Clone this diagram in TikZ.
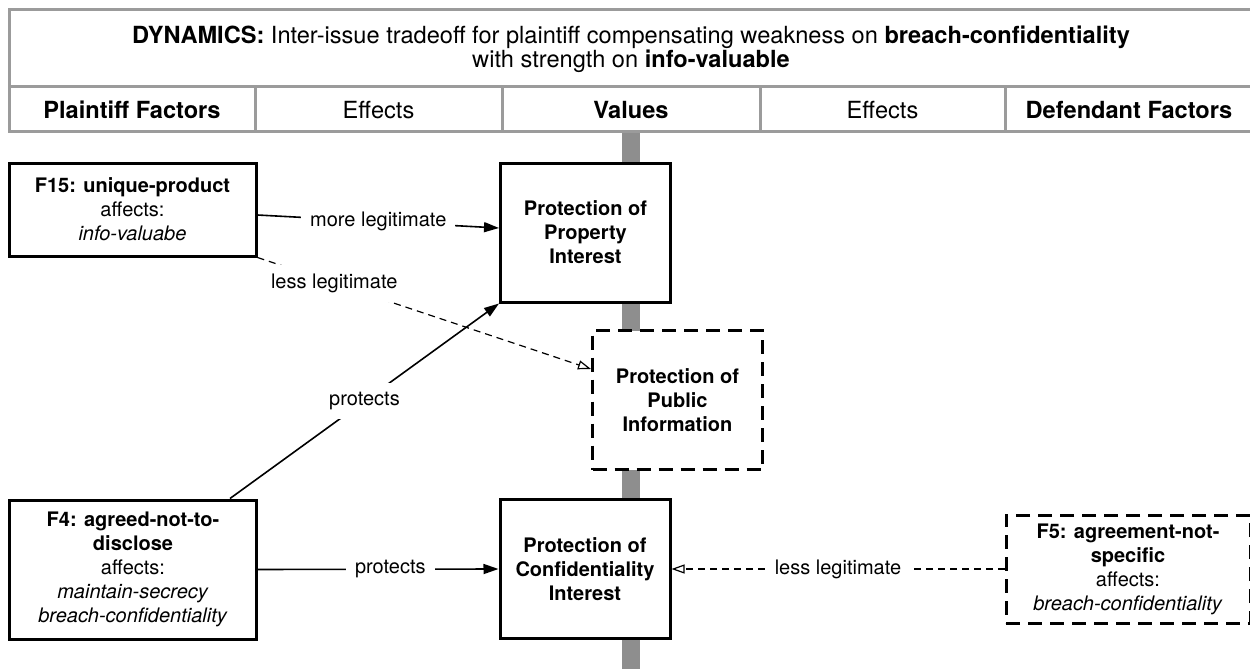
\documentclass[tikz,border=0pt]{standalone}
\usepackage{fontspec}
\setmainfont{TeX Gyre Heros}
\usetikzlibrary{arrows.meta}

\definecolor{rulegray}{RGB}{155,155,155}
\definecolor{bargray}{RGB}{142,142,142}

\begin{document}
\begin{tikzpicture}[x=0.5pt, y=-0.5pt,
    font=\fontsize{10}{12}\selectfont,
    headfont/.style={font=\fontsize{11.8}{12}\selectfont},
    factorbox/.style={draw, line width=1.5pt, fill=white, align=center, inner sep=0pt, minimum width=123.5pt},
    valuebox/.style={factorbox, font=\fontsize{10}{12}\selectfont\bfseries, minimum width=85pt, minimum height=69.5pt},
    weakbox/.style={dash pattern=on 7pt off 4pt},
    rule/.style={draw=rulegray, line width=1.5pt},
    lbl/.style={fill=white, inner sep=4.5pt},
    proarrow/.style={line width=0.8pt, -{Triangle[length=7.5pt,width=5pt]}},
    weakarrow/.style={line width=0.6pt, dash pattern=on 3.5pt off 2.5pt, -{Triangle[open,length=6.5pt,width=4.5pt]}}]

  \useasboundingbox (0,0) rectangle (1250,669);

  % value axis
  \fill[bargray] (622,131) rectangle (640,669);

  % header table
  \draw[rule, fill=white] (9,9) rectangle (1253,131);
  \draw[rule] (9,86) -- (1253,86);
  \foreach \x in {255,502,760,1005}
    \draw[rule] (\x,86) -- (\x,131);

  \node[headfont, align=center] (title) at (631,49.5) {\textbf{DYNAMICS:} Inter-issue tradeoff for plaintiff compensating weakness on \textbf{breach-confidentiality}\\with strength on \textbf{info-valuable}};
  \node[headfont] (hplf) at (132,110) {\textbf{Plaintiff Factors}};
  \node[headfont] (heffl) at (378.5,110) {Effects};
  \node[headfont] (hval) at (631,110) {\textbf{Values}};
  \node[headfont] (heffr) at (882.5,110) {Effects};
  \node[headfont] (hdef) at (1129,110) {\textbf{Defendant Factors}};

  % factors
  \node[factorbox, minimum height=46.5pt] (f15) at (132.5,209.5) {\textbf{F15: unique-product}\\affects:\\\textit{info-valuabe}};
  \node[factorbox, minimum height=69.5pt] (f4) at (133,569.5) {\textbf{F4: agreed-not-to-}\\\textbf{disclose}\\affects:\\\textit{maintain-secrecy}\\\textit{breach-confidentiality}};
  \node[factorbox, weakbox, minimum width=122pt, minimum height=54pt] (f5) at (1128,569) {\textbf{F5: agreement-not-}\\\textbf{specific}\\affects:\\\textit{breach-confidentiality}};

  % values
  \node[valuebox] (propint) at (585.5,232.5) {Protection of\\Property\\Interest};
  \node[valuebox, weakbox] (pubinfo) at (677.5,400) {Protection of\\Public\\Information};
  \node[valuebox] (confint) at (585,569) {Protection of\\Confidentiality\\Interest};

  % effects
  \draw[proarrow] ([yshift=-2.75pt]f15.east) -- node[lbl] {more legitimate} ([yshift=2.25pt]propint.west);
  \draw[weakarrow] (f15.south east) -- node[lbl, pos=0.23] {less legitimate} ([yshift=15.5pt]pubinfo.west);
  \draw[proarrow] ([xshift=-14pt]f4.north east) -- node[lbl] {protects} (propint.south west);
  \draw[proarrow] (f4.east) -- node[lbl, pos=0.55] {protects} (confint.west);
  \draw[weakarrow] (f5.west) -- node[lbl] {less legitimate} (confint.east);
\end{tikzpicture}
\end{document}
